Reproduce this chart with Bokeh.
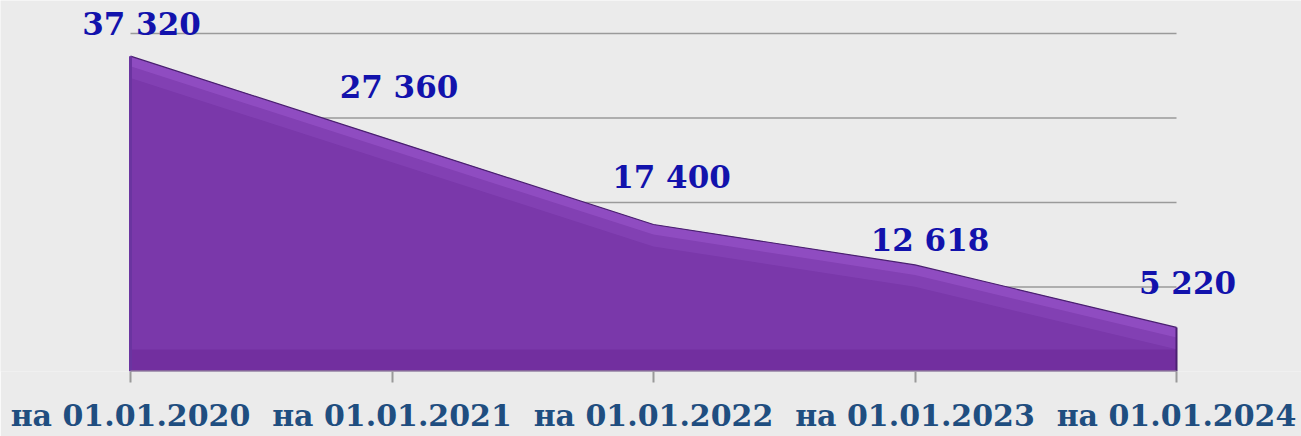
from bokeh.plotting import figure
from bokeh.models import FixedTicker, ColumnDataSource, LabelSet
from bokeh.core.properties import value
from bokeh.embed import file_html
from bokeh.resources import INLINE

categories = ["на 01.01.2020", "на 01.01.2021", "на 01.01.2022", "на 01.01.2023", "на 01.01.2024"]
values = [37320, 27360, 17400, 12618, 5220]
value_labels = ["37 320", "27 360", "17 400", "12 618", "5 220"]
y_ticks = [0, 10000, 20000, 30000, 40000]

# label placement tweaks (pixels, relative to each data point)
label_dx = [11, 7, 18, 15, 11]
label_dy = [32, 53, 47, 25, 44]

xs = list(range(len(categories)))
BG = "#ebebeb"
FONT = "DejaVu Serif"

# layout (pixels on the canvas)
W, H = 1301, 436
PLOT_L, PLOT_R = 130, 1176      # x of first / last category
PLOT_T, PLOT_B = 33, 371        # y of top gridline / baseline
BOTTOM = H - PLOT_B

n = len(categories) - 1
xpx = (PLOT_R - PLOT_L) / n
x_start = -PLOT_L / xpx
x_end = n + (W - PLOT_R) / xpx
ypx = (PLOT_B - PLOT_T) / (y_ticks[-1] - y_ticks[0])
y_end = y_ticks[-1] + PLOT_T / ypx

p = figure(width=W, height=H, output_backend="svg", toolbar_location=None,
           x_range=(x_start, x_end), y_range=(y_ticks[0], y_end))
p.background_fill_color = BG
p.border_fill_color = BG
p.outline_line_color = None
p.min_border_left = 0
p.min_border_right = 0
p.min_border_top = 0
p.min_border_bottom = BOTTOM

# gridlines spanning only the category extent
p.segment(x0=[xs[0]] * 4, y0=y_ticks[1:], x1=[xs[-1]] * 4, y1=y_ticks[1:],
          line_color="#9a9a9a", line_width=1.5)

# area with a simple bevel effect
band1 = [v - 1200 for v in values]
band2 = [v - 2600 for v in values]
bottom_band = [min(2600, v) for v in values]
p.varea(x=xs, y1=[0] * len(xs), y2=values, fill_color="#7a38aa")
p.varea(x=xs, y1=[0] * len(xs), y2=bottom_band, fill_color="#722f9f")
p.varea(x=xs, y1=band2, y2=values, fill_color="#9350c6", fill_alpha=0.35)
p.varea(x=xs, y1=band1, y2=values, fill_color="#9a55cc", fill_alpha=0.55)
p.line(x=xs, y=values, line_color="#4a2070", line_width=1.2)
p.segment(x0=[xs[0]], y0=[0], x1=[xs[0]], y1=[values[0]], line_color="#6a34a0", line_width=3)
p.segment(x0=[xs[-1]], y0=[0], x1=[xs[-1]], y1=[values[-1]], line_color="#4a2070", line_width=2)

# baseline (axis line)
p.segment(x0=[xs[0]], y0=[0], x1=[xs[-1]], y1=[0], line_color="#9a9a9a", line_width=2)

src = ColumnDataSource(dict(x=xs, y=values, t=value_labels, dx=label_dx, dy=label_dy))
labels = LabelSet(x="x", y="y", text="t", source=src, x_offset="dx", y_offset="dy",
                  text_align="center", text_baseline="middle", text_color="#1212ac",
                  text_font=value(FONT), text_font_style="bold", text_font_size="31px")
p.add_layout(labels)

p.yaxis.visible = False
p.xgrid.visible = False
p.ygrid.visible = False

ax = p.xaxis[0]
ax.ticker = FixedTicker(ticks=xs)
ax.major_label_overrides = {i: c for i, c in enumerate(categories)}
ax.axis_line_color = None
ax.major_tick_line_color = "#9a9a9a"
ax.major_tick_line_width = 2
ax.major_tick_out = 11
ax.major_tick_in = 0
ax.minor_tick_line_color = None
ax.major_label_standoff = 15
ax.major_label_text_font = FONT
ax.major_label_text_font_style = "bold"
ax.major_label_text_font_size = "30px"
ax.major_label_text_color = "#1f4e80"

open("out.html", "w").write(file_html(p, INLINE))
